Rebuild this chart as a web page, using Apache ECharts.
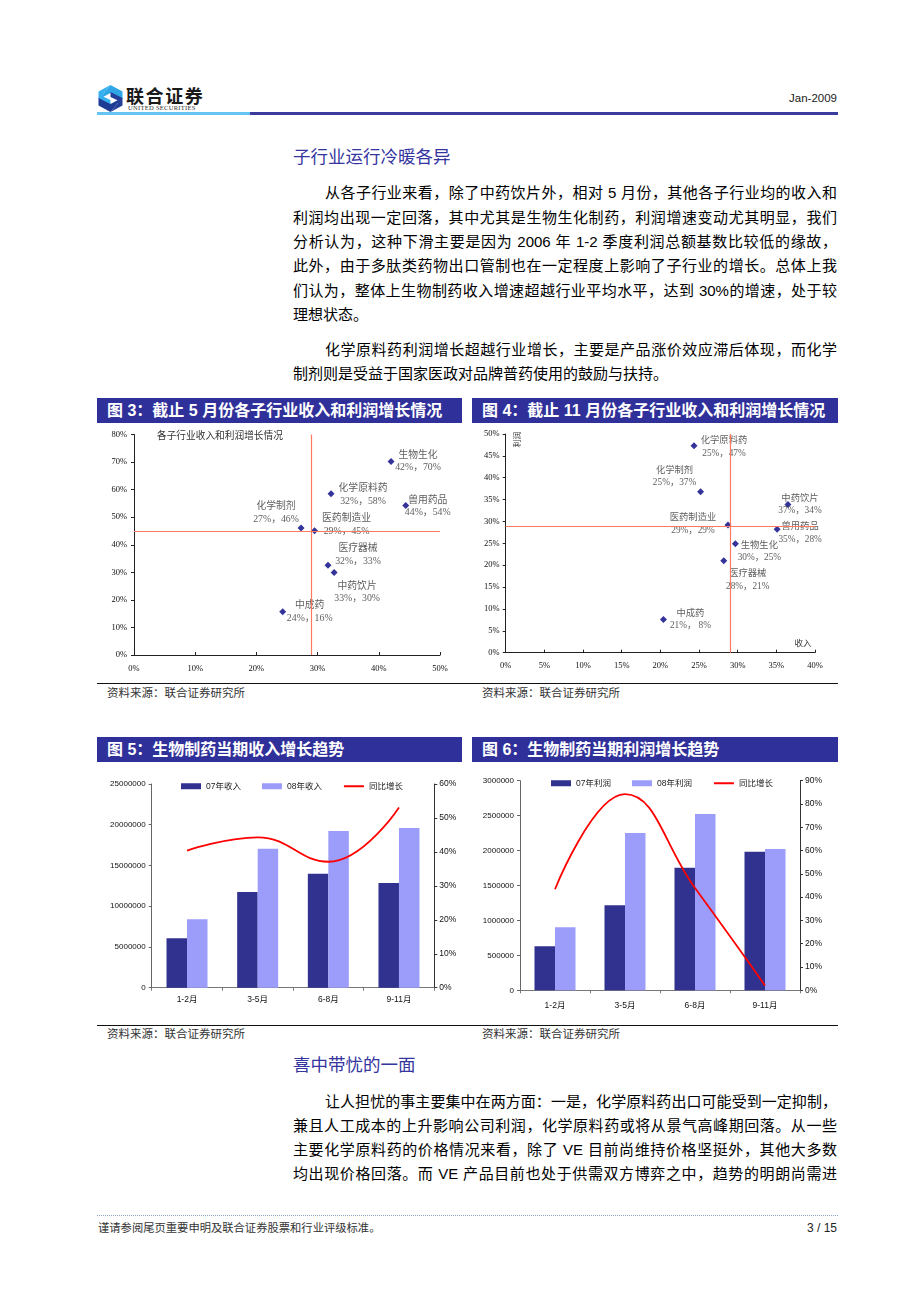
<!DOCTYPE html>
<html><head><meta charset="utf-8">
<script src="https://cdn.jsdelivr.net/npm/echarts@6/dist/echarts.min.js"></script>
<style>
body{margin:0;background:#fff;}
#page{position:relative;width:920px;height:1302px;overflow:hidden;background:#fff;font-family:"Liberation Sans","Noto Sans CJK SC",sans-serif;}
.abs{position:absolute;}
.line{position:absolute;left:293px;width:544px;height:24.3px;line-height:24.3px;font-size:15px;color:#000;text-align:justify;text-align-last:justify;}
.line.ind{left:325px;width:512px;}
.line.last{text-align:left;text-align-last:left;}
.h2{position:absolute;left:293px;height:24px;line-height:24px;font-size:17.5px;color:#3535A0;white-space:nowrap;}
.cap{position:absolute;height:25px;line-height:25px;background:#30309A;color:#fff;font-weight:bold;font-size:16px;padding-left:10px;box-sizing:border-box;white-space:nowrap;}
.src{position:absolute;font-size:11.5px;line-height:14px;color:#333;white-space:nowrap;}
.rule{position:absolute;left:97px;width:741px;height:1px;background:#111;}
.chart{position:absolute;}
</style></head>
<body><div id="page">

<!-- header -->
<svg class="abs" style="left:97px;top:84px" width="27" height="29" viewBox="0 0 27 29">
  <path d="M13.5 1 L25.5 7.5 L25.5 15 L13.5 9 L6 13 L6 10 Z" fill="#2FA6E6"/>
  <path d="M13.5 1 L1.5 7.5 L1.5 15 L13.5 21 L13.5 16 L6 12.5 L6 10 Z" fill="#36B0EE"/>
  <path d="M13.5 28 L1.5 21.5 L1.5 14 L13.5 20 L21 16 L21 19 Z" fill="#1F3C95"/>
  <path d="M13.5 28 L25.5 21.5 L25.5 14 L13.5 8 L13.5 13 L21 16.5 L21 19 Z" fill="#243F9A"/>
</svg>
<div class="abs" style="left:126px;top:84px;font-size:18px;line-height:22px;font-weight:bold;letter-spacing:1.6px;color:#1a1a1a;font-family:'Noto Sans CJK SC';">联合证券</div>
<div class="abs" style="left:128px;top:104px;font-size:6.5px;line-height:8px;letter-spacing:0.3px;color:#333;font-family:'Liberation Serif';">UNITED SECURITIES</div>
<div class="abs" style="right:83px;top:91px;font-size:11.5px;line-height:14px;color:#222;">Jan-2009</div>
<div class="abs" style="left:97px;top:112px;width:153px;height:3px;background:#66C4F2;"></div>
<div class="abs" style="left:250px;top:112px;width:588px;height:3px;background:#3B3B9E;"></div>

<div class="h2" style="top:145.3px;">子行业运行冷暖各异</div>

<div class="line ind" style="top:181.4px;">从各子行业来看，除了中药饮片外，相对 5 月份，其他各子行业均的收入和</div>
<div class="line" style="top:205.7px;">利润均出现一定回落，其中尤其是生物生化制药，利润增速变动尤其明显，我们</div>
<div class="line" style="top:230px;">分析认为，这种下滑主要是因为 2006 年 1-2 季度利润总额基数比较低的缘故，</div>
<div class="line" style="top:254.3px;">此外，由于多肽类药物出口管制也在一定程度上影响了子行业的增长。总体上我</div>
<div class="line" style="top:278.6px;">们认为，整体上生物制药收入增速超越行业平均水平，达到 30%的增速，处于较</div>
<div class="line last" style="top:302.9px;">理想状态。</div>

<div class="line ind" style="top:337.9px;">化学原料药利润增长超越行业增长，主要是产品涨价效应滞后体现，而化学</div>
<div class="line last" style="top:362.2px;">制剂则是受益于国家医政对品牌普药使用的鼓励与扶持。</div>

<div class="cap" style="left:97px;top:398px;width:365px;">图 3：截止 5 月份各子行业收入和利润增长情况</div>
<div class="cap" style="left:472px;top:398px;width:366px;">图 4：截止 11 月份各子行业收入和利润增长情况</div>

<div id="c3" class="chart" style="left:97px;top:424px;width:365px;height:258px;"></div>
<div id="c4" class="chart" style="left:472px;top:424px;width:366px;height:258px;"></div>

<div class="rule" style="top:683px;"></div>
<div class="src" style="left:107px;top:686px;">资料来源：联合证券研究所</div>
<div class="src" style="left:482px;top:686px;">资料来源：联合证券研究所</div>

<div class="cap" style="left:97px;top:737px;width:365px;">图 5：生物制药当期收入增长趋势</div>
<div class="cap" style="left:472px;top:737px;width:366px;">图 6：生物制药当期利润增长趋势</div>

<div id="c5" class="chart" style="left:97px;top:762px;width:365px;height:260px;"></div>
<div id="c6" class="chart" style="left:472px;top:762px;width:366px;height:260px;"></div>

<div class="rule" style="top:1025px;"></div>
<div class="src" style="left:107px;top:1027px;">资料来源：联合证券研究所</div>
<div class="src" style="left:482px;top:1027px;">资料来源：联合证券研究所</div>

<div class="h2" style="top:1053.3px;">喜中带忧的一面</div>

<div class="line ind" style="top:1089.5px;">让人担忧的事主要集中在两方面：一是，化学原料药出口可能受到一定抑制，</div>
<div class="line" style="top:1113.8px;">兼且人工成本的上升影响公司利润，化学原料药或将从景气高峰期回落。从一些</div>
<div class="line" style="top:1138.1px;">主要化学原料药的价格情况来看，除了 VE 目前尚维持价格坚挺外，其他大多数</div>
<div class="line" style="top:1162.4px;">均出现价格回落。而 VE 产品目前也处于供需双方博弈之中，趋势的明朗尚需进</div>

<div class="abs" style="left:97px;top:1215px;width:741px;height:0;border-top:1px dotted #8AA2C8;"></div>
<div class="abs" style="left:98px;top:1221px;font-size:11.3px;line-height:14px;color:#333;white-space:nowrap;">谨请参阅尾页重要申明及联合证券股票和行业评级标准。</div>
<div class="abs" style="right:83px;top:1221px;font-size:12px;line-height:14px;color:#222;white-space:nowrap;">3 / 15</div>

</div>
<script>
// ---------- data ----------
const periods = ['1-2月', '3-5月', '6-8月', '9-11月'];
const revenue07 = [6060000, 11750000, 13990000, 12850000];
const revenue08 = [8390000, 17060000, 19230000, 19600000];
const revenueGrowth = [0.404, 0.443, 0.371, 0.531];
const profit07 = [630000, 1217000, 1755000, 1984000];
const profit08 = [902000, 2250000, 2523000, 2022000];
const profitGrowth = [0.434, 0.842, 0.439, 0.021];

const sectorsMay = ['生物生化', '化学原料药', '兽用药品', '化学制剂', '医药制造业', '医疗器械', '中药饮片', '中成药'];
const revGrowthMay = [0.420, 0.322, 0.444, 0.273, 0.295, 0.317, 0.327, 0.243];
const profGrowthMay = [0.702, 0.585, 0.542, 0.461, 0.451, 0.326, 0.299, 0.157];
const valueTextMay = ['42%，70%', '32%，58%', '44%，54%', '27%，46%', '29%，45%', '32%，33%', '33%，30%', '24%，16%'];

const sectorsNov = ['化学原料药', '化学制剂', '中药饮片', '医药制造业', '兽用药品', '生物生化', '医疗器械', '中成药'];
const revGrowthNov = [0.2435, 0.252, 0.365, 0.2875, 0.351, 0.297, 0.282, 0.204];
const profGrowthNov = [0.473, 0.368, 0.339, 0.292, 0.282, 0.249, 0.210, 0.076];
const valueTextNov = ['25%，47%', '25%，37%', '37%，34%', '29%，29%', '35%，28%', '30%，25%', '28%，21%', '21%， 8%'];

// ---------- layout / style (not data) ----------
const labelOffsetMay = [[27, 0], [32, 1], [22, 1], [-25, -15], [32, -6], [30, -10], [23, 20], [27, 0]];
const labelOffsetNov = [[30, 1], [-26, -15], [12, 0], [-35, -1], [23, 3.5], [24, 8], [24, 19], [27, 0]];
const serif = "'Liberation Serif','Noto Sans CJK SC',serif";
const sans = "'Liberation Sans','Noto Sans CJK SC',sans-serif";
const pct = v => Math.round(v * 100) + '%';
const plain = v => String(Math.round(v));
const refName = '医药制造业';

function scatterOption(cfg) {
  const refIdx = cfg.names.indexOf(refName);
  return {
    animation: false,
    title: cfg.title ? { text: cfg.title, left: cfg.titleLeft, top: cfg.titleTop, padding: 0,
      textStyle: { fontSize: 9.7, fontWeight: 'normal', color: '#333', fontFamily: serif } } : undefined,
    grid: Object.assign({ outerBoundsMode: 'none', containLabel: false }, cfg.grid),
    xAxis: { type: 'value', min: 0, max: cfg.xMax, interval: cfg.xStep,
      axisLine: { show: true, onZero: false, lineStyle: { color: '#222', width: 1 } },
      axisTick: { show: true, inside: true, length: 3, lineStyle: { color: '#222' } },
      splitLine: { show: false },
      axisLabel: { formatter: pct, fontSize: 8.5, color: '#111', fontFamily: serif, margin: cfg.xMargin } },
    yAxis: { type: 'value', min: 0, max: cfg.yMax, interval: cfg.yStep,
      axisLine: { show: true, onZero: false, lineStyle: { color: '#222', width: 1 } },
      axisTick: { show: true, length: 3, lineStyle: { color: '#222' } },
      splitLine: { show: false },
      axisLabel: { formatter: pct, fontSize: 8.5, color: '#111', fontFamily: serif, margin: cfg.yMargin } },
    graphic: cfg.graphic || [],
    series: [{
      type: 'scatter', symbol: 'diamond', symbolSize: [7, 7],
      itemStyle: { color: '#000080' },
      data: cfg.names.map((n, i) => ({
        name: n, value: [cfg.xs[i], cfg.ys[i]],
        label: { offset: cfg.offsets[i] }
      })),
      label: { show: true, position: 'inside', align: 'center', verticalAlign: 'middle',
        formatter: p => p.name + '\n' + cfg.texts[p.dataIndex],
        fontSize: cfg.labelSize, lineHeight: 12.5, color: '#333', fontFamily: serif },
      markLine: { silent: true, symbol: 'none', animation: false,
        lineStyle: { color: '#FF7A5E', width: 1.2, type: 'solid' },
        label: { show: false },
        data: [{ xAxis: cfg.xs[refIdx] }, { yAxis: cfg.ys[refIdx] }] },
      z: 3
    }]
  };
}

function comboOption(cfg) {
  return {
    animation: false,
    grid: Object.assign({ outerBoundsMode: 'none', containLabel: false }, cfg.grid),
    legend: { left: cfg.legendLeft, top: cfg.legendTop, padding: 0, itemGap: 21, itemWidth: 20, itemHeight: 6,
      selectedMode: false, textStyle: { fontSize: 8.5, color: '#222', fontFamily: sans },
      data: [
        { name: cfg.names[0], icon: 'rect' },
        { name: cfg.names[1], icon: 'rect' },
        { name: cfg.names[2], itemStyle: { color: 'rgba(0,0,0,0)', borderWidth: 0 } }
      ] },
    xAxis: { type: 'category', data: periods,
      axisLine: { lineStyle: { color: '#777' } },
      axisTick: { show: true, length: 3, lineStyle: { color: '#777' } },
      axisLabel: { fontSize: 8.5, color: '#111', fontFamily: sans, margin: cfg.xMargin } },
    yAxis: [
      { type: 'value', min: 0, max: cfg.leftMax, interval: cfg.leftStep,
        axisLine: { show: true, lineStyle: { color: '#666' } },
        axisTick: { show: true, length: 3, lineStyle: { color: '#666' } },
        splitLine: { show: false },
        axisLabel: { formatter: plain, fontSize: 8, color: '#111', fontFamily: sans, margin: 6 } },
      { type: 'value', position: 'right', min: 0, max: cfg.rightMax, interval: 0.1,
        axisLine: { show: true, lineStyle: { color: '#333' } },
        axisTick: { show: true, length: 3, lineStyle: { color: '#333' } },
        splitLine: { show: false },
        axisLabel: { formatter: pct, fontSize: 8.5, color: '#111', fontFamily: sans, margin: 5 } }
    ],
    series: [
      { type: 'bar', name: cfg.names[0], data: cfg.a, barWidth: 20.5, barGap: '0%',
        itemStyle: { color: '#31318F' } },
      { type: 'bar', name: cfg.names[1], data: cfg.b, barWidth: 20.5, barGap: '0%',
        itemStyle: { color: '#9C9CFA' } },
      { type: 'line', name: cfg.names[2], data: cfg.g, yAxisIndex: 1, smooth: 0.45,
        symbol: 'none', itemStyle: { color: '#FF0000' }, lineStyle: { color: '#FF0000', width: 1.8 }, z: 5 }
    ]
  };
}

echarts.init(document.getElementById('c3')).setOption(scatterOption({
  title: '各子行业收入和利润增长情况', titleLeft: 60, titleTop: 8,
  grid: { left: 37, top: 10.5, width: 306, height: 220.5 },
  xMax: 0.5, xStep: 0.1, yMax: 0.8, yStep: 0.1, xMargin: 10, yMargin: 7,
  names: sectorsMay, xs: revGrowthMay, ys: profGrowthMay, texts: valueTextMay,
  offsets: labelOffsetMay, labelSize: 9.8
}));

echarts.init(document.getElementById('c4')).setOption(scatterOption({
  grid: { left: 33.7, top: 10, width: 309.3, height: 218.7 },
  xMax: 0.4, xStep: 0.05, yMax: 0.5, yStep: 0.05, xMargin: 9, yMargin: 6,
  names: sectorsNov, xs: revGrowthNov, ys: profGrowthNov, texts: valueTextNov,
  offsets: labelOffsetNov, labelSize: 9.3,
  graphic: [
    { type: 'text', x: 46, y: 15.5, rotation: Math.PI / 2,
      style: { text: '利润', fontSize: 8, fill: '#333', align: 'center', verticalAlign: 'middle', fontFamily: serif } },
    { type: 'text', x: 331, y: 220,
      style: { text: '收入', fontSize: 8.5, fill: '#333', align: 'center', verticalAlign: 'middle', fontFamily: serif } }
  ]
}));

echarts.init(document.getElementById('c5')).setOption(comboOption({
  grid: { left: 54.7, top: 22, width: 282.6, height: 203.7 },
  legendLeft: 84, legendTop: 20, xMargin: 8,
  names: ['07年收入', '08年收入', '同比增长'],
  leftMax: 25000000, leftStep: 5000000, rightMax: 0.6,
  a: revenue07, b: revenue08, g: revenueGrowth
}));

echarts.init(document.getElementById('c6')).setOption(comboOption({
  grid: { left: 48, top: 18.7, width: 280, height: 209.6 },
  legendLeft: 79, legendTop: 17, xMargin: 11,
  names: ['07年利润', '08年利润', '同比增长'],
  leftMax: 3000000, leftStep: 500000, rightMax: 0.9,
  a: profit07, b: profit08, g: profitGrowth
}));
</script>
</body></html>
